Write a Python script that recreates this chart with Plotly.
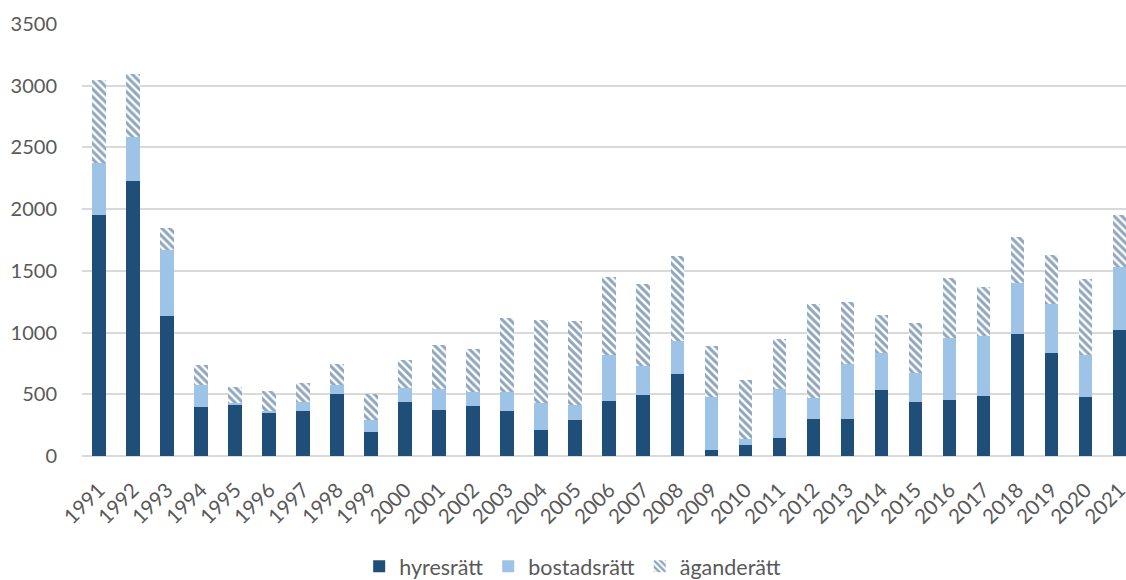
import plotly.graph_objects as go

years = [str(y) for y in range(1991, 2022)]
hyresratt = [1955, 2225, 1135, 400, 420, 348, 367, 500, 195, 437, 370, 402, 367, 208, 289, 443, 491, 661, 46, 86,
             143, 297, 297, 532, 434, 451, 483, 985, 831, 475, 1017]
bostadsratt = [420, 360, 530, 175, 8, 20, 67, 75, 95, 110, 170, 113, 154, 221, 124, 372, 235, 270, 429, 52,
               397, 170, 445, 302, 235, 502, 486, 413, 397, 340, 516]
aganderatt = [670, 510, 185, 165, 130, 155, 157, 170, 210, 232, 360, 354, 596, 675, 677, 637, 666, 691, 413, 480,
              407, 766, 507, 310, 408, 491, 399, 380, 399, 621, 421]
y_ticks = [0, 500, 1000, 1500, 2000, 2500, 3000, 3500]

DARK = "#1F4E79"
LIGHT = "#9DC3E6"
FONT = "Lato, 'Liberation Sans', sans-serif"

fig = go.Figure()
fig.add_trace(go.Bar(x=years, y=hyresratt, name="hyresrätt", marker=dict(color=DARK, line=dict(width=0))))
fig.add_trace(go.Bar(x=years, y=bostadsratt, name="bostadsrätt", marker=dict(color=LIGHT, line=dict(width=0))))
fig.add_trace(go.Bar(x=years, y=aganderatt, name="äganderätt",
                     marker=dict(color="white", line=dict(width=0),
                                 pattern=dict(shape="\\", fgcolor=DARK, bgcolor="white", size=5.5, solidity=0.55))))

fig.update_layout(
    barmode="stack",
    bargap=0.6,
    width=1126, height=580,
    margin=dict(l=82, r=0, t=24, b=123.5, autoexpand=False),
    plot_bgcolor="white", paper_bgcolor="white",
    font=dict(family=FONT, size=20, color="#595959"),
    showlegend=True,
    legend=dict(orientation="h", x=0.47, xanchor="center", y=-0.255, yanchor="middle",
                font=dict(size=21.5, color="#595959"), itemwidth=30, traceorder="normal"),
    xaxis=dict(range=[-0.5, 30.19], tickangle=-45, showgrid=False, ticks="outside", ticklen=13,
               tickcolor="rgba(0,0,0,0)", showline=False, zeroline=False, automargin=False,
               tickfont=dict(size=20.5)),
    yaxis=dict(range=[0, 3500], tickvals=y_ticks, showgrid=True, gridcolor="#D9D9D9", gridwidth=1.5,
               zeroline=True, zerolinecolor="#D9D9D9", zerolinewidth=1.5, automargin=False,
               ticks="outside", ticklen=20, tickcolor="rgba(0,0,0,0)", showline=False),
)

fig.write_html(
    "out.html",
    config={"displayModeBar": False},
    post_script="document.body.style.margin='0';document.body.style.overflow='hidden';",
)
